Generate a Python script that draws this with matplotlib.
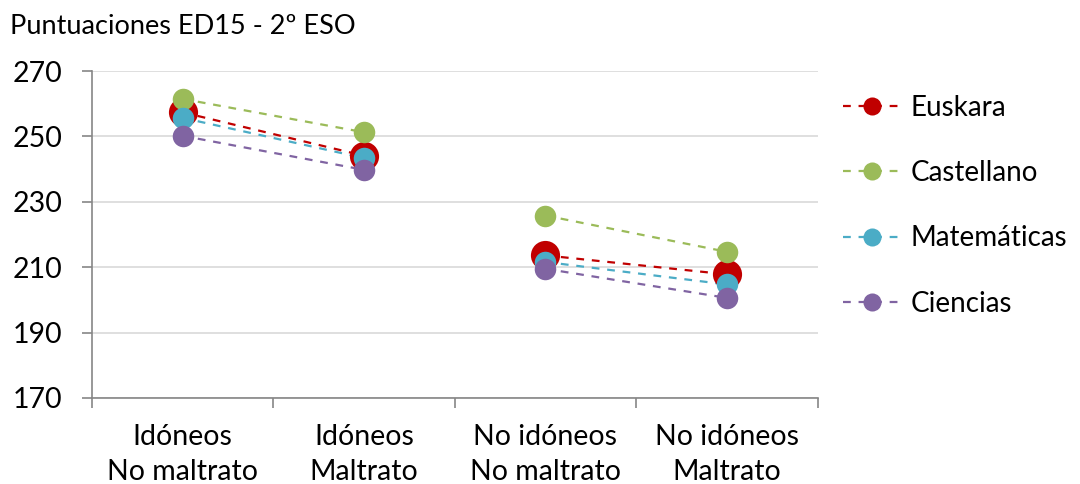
import numpy as np
import matplotlib.pyplot as plt
from matplotlib.lines import Line2D

# data
categories = ["Idóneos\nNo maltrato", "Idóneos\nMaltrato", "No idóneos\nNo maltrato", "No idóneos\nMaltrato"]
euskara = [257.4, 244.1, 213.6, 207.8]
castellano = [261.5, 251.3, 225.8, 214.7]
matematicas = [255.7, 243.4, 211.6, 204.7]
ciencias = [250.2, 239.8, 209.5, 200.6]

series = [
    ("Euskara", euskara, "#C00000", 21),
    ("Castellano", castellano, "#9BBB59", 15.5),
    ("Matemáticas", matematicas, "#4BACC6", 15.5),
    ("Ciencias", ciencias, "#8064A2", 15.5),
]

plt.rcParams['font.family'] = ['Lato', 'DejaVu Sans']

fig = plt.figure(figsize=(10.8, 4.84), dpi=100)
ax = fig.add_axes([0.085, 0.178, 0.672, 0.675])

x = np.arange(len(categories))
handles = []
for name, vals, color, ms in series:
    vals = np.array(vals)
    # two separate pairs: idoneos and no idoneos
    for seg in (slice(0, 2), slice(2, 4)):
        ax.plot(x[seg], vals[seg], color=color, lw=1.6, linestyle=(0, (3.5, 3.5)), zorder=2)
    ax.plot(x, vals, linestyle="none", marker="o", markersize=ms, color=color,
            markeredgewidth=0, zorder=3)
    handles.append(Line2D([0], [0], color=color, lw=1.6, linestyle=(0, (3.5, 3.5)),
                          marker="o", markersize=13, markeredgewidth=0))

ax.set_xlim(-0.5, 3.5)
ax.set_ylim(170, 270)
ax.set_yticks(np.arange(170, 271, 20))
ax.grid(axis="y", color="#D9D9D9", lw=1.2)
ax.set_axisbelow(True)

ax.set_xticks(x)
ax.set_xticklabels(categories, fontsize=20.5, linespacing=1.4)
ax.set_xticks(np.arange(-0.5, 3.6, 1), minor=True)
ax.tick_params(axis="x", which="major", length=0, pad=19)
ax.tick_params(axis="x", which="minor", length=7, color="#868686", width=1.2)
ax.tick_params(axis="y", length=7, color="#868686", width=1.2, labelsize=20.5, pad=14)

for s in ["top", "right"]:
    ax.spines[s].set_visible(False)
for s in ["left", "bottom"]:
    ax.spines[s].set_color("#868686")
    ax.spines[s].set_linewidth(1.2)

fig.text(0.009, 0.92, "Puntuaciones ED15 - 2º ESO", fontsize=19.5, ha="left", va="bottom")

fig.legend(handles, [s[0] for s in series], loc="center left", bbox_to_anchor=(0.757, 0.575),
           frameon=False, fontsize=20, handlelength=2.1, handletextpad=0.35, labelspacing=1.42)

fig.savefig("out.png", dpi=100)
